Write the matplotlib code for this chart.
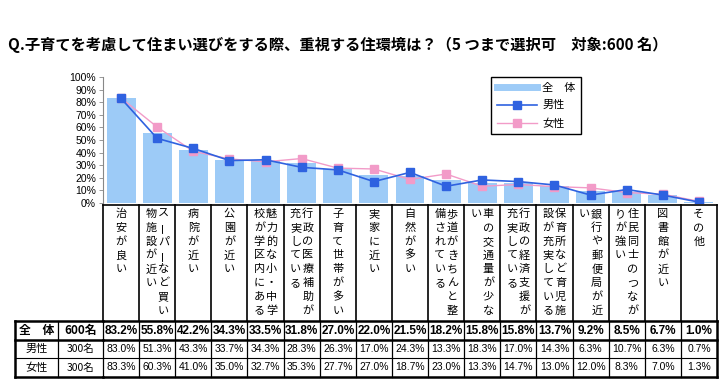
import matplotlib
matplotlib.use("Agg")
import matplotlib.pyplot as plt
from matplotlib import transforms
from matplotlib.lines import Line2D
from matplotlib.ticker import FuncFormatter

plt.rcParams['font.family'] = ['Noto Sans CJK JP', 'DejaVu Sans']

title = "Q.子育てを考慮して住まい選びをする際、重視する住環境は？（5 つまで選択可　対象:600 名）"

# each label is a list of vertical columns, right to left
labels = [
    ["治安が良い"],
    ["スーパーなど買い", "物施設が近い"],
    ["病院が近い"],
    ["公園が近い"],
    ["魅力的な小・中学", "校が学区内にある"],
    ["行政の医療補助が", "充実している"],
    ["子育て世帯が多い"],
    ["実家に近い"],
    ["自然が多い"],
    ["歩道がきちんと整", "備されている"],
    ["車の交通量が少な", "い"],
    ["行政の経済支援が", "充実している"],
    ["保育所など育児施", "設が充実している"],
    ["銀行や郵便局が近", "い"],
    ["住民同士のつなが", "りが強い"],
    ["図書館が近い"],
    ["その他"],
]
total = [83.2, 55.8, 42.2, 34.3, 33.5, 31.8, 27.0, 22.0, 21.5, 18.2, 15.8, 15.8, 13.7, 9.2, 8.5, 6.7, 1.0]
male = [83.0, 51.3, 43.3, 33.7, 34.3, 28.3, 26.3, 17.0, 24.3, 13.3, 18.3, 17.0, 14.3, 6.3, 10.7, 6.3, 0.7]
female = [83.3, 60.3, 41.0, 35.0, 32.7, 35.3, 27.7, 27.0, 18.7, 23.0, 13.3, 14.7, 13.0, 12.0, 8.3, 7.0, 1.3]
row_names = ["全　体", "男性", "女性"]
row_counts = ["600名", "300名", "300名"]

W, H = 726, 385
fig = plt.figure(figsize=(W / 100, H / 100), dpi=100)


def fy(py):
    return 1 - py / H


def fx(px):
    return px / W


ax = fig.add_axes([fx(103), fy(203), fx(717) - fx(103), fy(77) - fy(203)])
n = len(total)
xs = list(range(n))

ax.bar(xs, total, width=0.8, color='#9DCBF7', zorder=1)
ax.plot(xs, male, color='#2F62E0', lw=1.2, marker='s', ms=5.5, zorder=3)
ax.plot(xs, female, color='#F29BC8', lw=1.0, marker='s', ms=5.5, zorder=2)

ax.set_xlim(-0.5, n - 0.5)
ax.set_ylim(0, 100)
ax.set_yticks(range(0, 101, 10))
ax.yaxis.set_major_formatter(FuncFormatter(lambda v, p: f"{int(v)}%"))
ax.tick_params(axis='y', labelsize=7.5, length=3, width=0.6, pad=2, color='#888888')
for lb in ax.get_yticklabels():
    lb.set_family('Liberation Sans')
ax.set_xticks([])
for s in ['top', 'right', 'bottom']:
    ax.spines[s].set_visible(False)
ax.spines['left'].set_color('#888888')
ax.spines['left'].set_linewidth(0.8)

handles = [
    Line2D([], [], color='#9DCBF7', lw=5),
    Line2D([], [], color='#2F62E0', lw=1.2, marker='s', ms=5.5),
    Line2D([], [], color='#F29BC8', lw=1.0, marker='s', ms=5.5),
]
leg = fig.legend(handles, ["全　体", "男性", "女性"], loc='upper left',
                 bbox_to_anchor=(fx(491), fy(77)), bbox_transform=fig.transFigure,
                 fancybox=False, framealpha=1, edgecolor='black', fontsize=8,
                 handlelength=3.6, handletextpad=0.5, labelspacing=0.7,
                 borderpad=0.5, borderaxespad=0)
leg.get_frame().set_linewidth(1.0)

fig.text(fx(8), fy(45), title, fontsize=11, fontweight='bold', va='center', ha='left')

# table: x in data coords, y in figure coords
tr = transforms.blended_transform_factory(ax.transData, fig.transFigure)
trf = fig.transFigure

box_top, box_bot = 205, 321
rows_y = [321, 340, 358, 377]
xl, xm = fx(15), fx(58)
xr_data = n - 0.5
x0_fig = fx(103)

# category label boxes
ax.plot([-0.5, xr_data], [fy(box_top)] * 2, color='black', lw=1.2, transform=tr, clip_on=False)
for i in range(n + 1):
    ax.plot([i - 0.5] * 2, [fy(box_top), fy(box_bot)], color='black', lw=1.2,
            transform=tr, clip_on=False)

step = 13.8
col_off = 0.17
for i, cols in enumerate(labels):
    k = len(cols)
    for j, col in enumerate(cols):
        cx = i if k == 1 else i + col_off - 2 * col_off * j
        for m, ch in enumerate(col):
            rot = 90 if ch == 'ー' else 0
            ax.text(cx, fy(box_top + 9 + m * step), ch, transform=tr, fontsize=8,
                    ha='center', va='center', rotation=rot, clip_on=False)

# table lines
for r, yy in enumerate(rows_y):
    lw = 1.8 if r in (0, 1, 3) else 0.8
    ax.plot([xl, x0_fig], [fy(yy)] * 2, color='black', lw=lw, transform=trf, clip_on=False)
    ax.plot([-0.5, xr_data], [fy(yy)] * 2, color='black', lw=lw, transform=tr, clip_on=False)
ax.plot([xl] * 2, [fy(rows_y[0]), fy(rows_y[-1])], color='black', lw=1.8, transform=trf, clip_on=False)
ax.plot([xm] * 2, [fy(rows_y[0]), fy(rows_y[-1])], color='black', lw=0.9, transform=trf, clip_on=False)
for i in range(n + 1):
    lw = 1.8 if i == n else 0.9
    ax.plot([i - 0.5] * 2, [fy(rows_y[0]), fy(rows_y[-1])], color='black', lw=lw,
            transform=tr, clip_on=False)

series = [total, male, female]
for r in range(3):
    yc = fy((rows_y[r] + rows_y[r + 1]) / 2)
    bold = 'bold' if r == 0 else 'normal'
    fsz = 8.5 if r == 0 else 7.5
    ax.text((xl + xm) / 2, yc, row_names[r], transform=trf, fontsize=8.5 if r == 0 else 8,
            fontweight=bold, ha='center', va='center', clip_on=False)
    ax.text((xm + x0_fig) / 2, yc, row_counts[r], transform=trf, fontsize=fsz,
            fontweight=bold, ha='center', va='center', clip_on=False)
    for i, v in enumerate(series[r]):
        ax.text(i, yc, f"{v:.1f}%", transform=tr, fontsize=8.5 if r == 0 else 7.5,
                fontweight=bold, ha='center', va='center', clip_on=False,
                family='Liberation Sans')

fig.savefig("out.png", dpi=100)
